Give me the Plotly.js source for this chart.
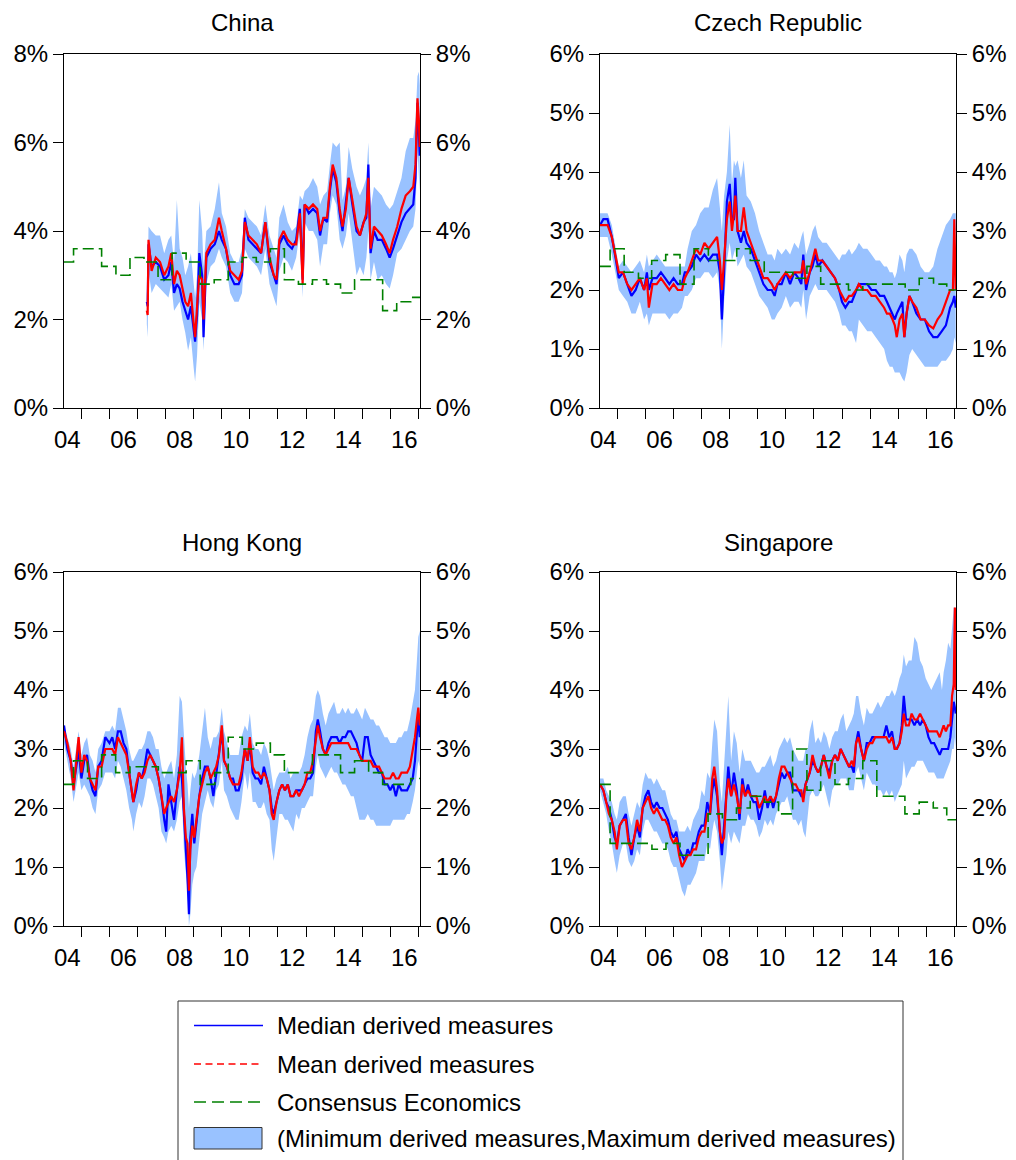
<!DOCTYPE html>
<html><head><meta charset="utf-8">
<script src="https://cdn.plot.ly/plotly-3.0.1.min.js"></script>
<style>html,body{margin:0;padding:0;background:#fff}#chart{width:1016px;height:1160px}</style>
</head><body><div id="chart"></div>
<script>
// ---------- tick labels ----------
const labelYears = [2004.5, 2006.5, 2008.5, 2010.5, 2012.5, 2014.5, 2016.5];
const tickLabels = ['04', '06', '08', '10', '12', '14', '16'];
const yearTicks = [2005, 2006, 2007, 2008, 2009, 2010, 2011, 2012, 2013, 2014, 2015, 2016, 2017];
const seriesNames = ['Median derived measures', 'Mean derived measures', 'Consensus Economics', '(Minimum derived measures,Maximum derived measures)'];

// ---------- China ----------
const cnYears = [2007.33,2007.36,2007.39,2007.5,2007.65,2007.8,2007.95,2008.1,2008.2,2008.3,2008.4,2008.5,2008.6,2008.7,2008.8,2008.9,2009.0,2009.05,2009.12,2009.2,2009.3,2009.35,2009.45,2009.6,2009.75,2009.9,2010.0,2010.15,2010.3,2010.45,2010.6,2010.72,2010.82,2010.95,2011.1,2011.25,2011.4,2011.55,2011.7,2011.85,2011.95,2012.05,2012.2,2012.35,2012.5,2012.65,2012.78,2012.88,2012.95,2013.1,2013.25,2013.4,2013.5,2013.62,2013.75,2013.85,2013.95,2014.08,2014.2,2014.3,2014.42,2014.52,2014.65,2014.8,2014.92,2015.05,2015.15,2015.22,2015.3,2015.42,2015.55,2015.7,2015.85,2015.98,2016.1,2016.25,2016.4,2016.55,2016.7,2016.82,2016.9,2016.97,2017.02,2017.05];
const cnMedian = [2.4,2.3,3.7,3.2,3.3,3.2,2.9,3.0,3.3,2.6, 2.8,2.7,2.4,2.2,2.0,2.3,1.7,1.5,2.1,3.5, 3.0,1.6,3.4,3.6,3.7,4.0,3.8,3.6,3.0,2.8, 2.8,3.0,4.3,3.8,3.7,3.6,3.5,4.2,3.3,3.0, 2.8,3.7,3.9,3.7,3.6,3.8,4.5,2.9,4.6,4.4, 4.5,4.4,3.9,4.3,4.2,4.9,5.4,5.1,4.4,4.0, 4.6,5.2,4.6,4.0,3.9,4.2,4.3,5.5,3.5,4.0, 3.8,3.8,3.6,3.4,3.6,3.9,4.2,4.4,4.5,4.6, 5.2,6.9,6.2,5.7];
const cnMean = [2.2,2.1,3.8,3.1,3.4,3.3,3.0,3.2,3.5,2.8, 3.1,3.0,2.7,2.4,2.3,2.6,1.9,1.6,2.3,3.0, 2.9,2.0,3.5,3.7,3.8,4.3,4.0,3.6,3.1,3.0, 2.9,3.1,4.2,3.9,3.8,3.7,3.5,4.2,3.4,3.0, 2.9,3.8,4.0,3.8,3.7,3.7,4.4,2.8,4.6,4.5, 4.6,4.5,4.0,4.3,4.3,5.0,5.5,5.2,4.5,4.1, 4.5,5.2,4.7,4.1,3.9,4.2,4.4,5.2,3.6,4.1, 4.0,3.9,3.7,3.5,3.8,4.1,4.5,4.8,4.9,5.0, 5.5,7.0,6.5,5.9];
const cnMin = [1.9,1.6,3.1,2.6,2.8,2.7,2.6,2.5,2.8,2.2, 2.3,2.4,2.0,1.7,1.3,1.6,0.9,0.6,1.2,2.4, 2.0,1.3,2.8,3.2,3.3,3.6,3.4,3.2,2.6,2.4, 2.4,2.6,3.6,3.4,3.3,3.2,3.0,3.6,2.8,2.5, 2.3,3.1,3.4,3.3,3.1,3.4,4.0,2.5,4.2,4.0, 4.0,3.8,3.2,3.7,3.7,4.4,4.8,4.6,3.8,3.6, 3.9,4.4,3.8,3.0,3.2,3.0,3.4,4.0,2.9,3.3, 2.9,3.0,2.8,2.7,3.0,3.5,3.6,3.8,4.0,4.1, 4.5,5.8,5.0,4.9];
const cnMax = [2.6,2.7,4.1,4.0,3.9,3.9,3.5,3.8,3.9,3.3, 4.7,3.6,3.4,3.0,3.2,3.5,2.8,2.5,3.0,4.7, 4.0,3.2,4.0,4.1,4.5,5.1,4.4,4.1,3.5,3.3, 3.3,3.6,4.5,4.3,4.2,4.1,3.9,4.6,3.9,3.6, 3.4,4.3,4.6,4.2,4.0,4.1,4.8,4.7,4.9,5.0, 5.2,5.0,4.6,4.8,4.9,5.5,6.0,5.9,6.0,4.7, 5.0,5.9,5.4,5.0,4.8,5.0,5.2,6.0,4.5,5.0, 4.9,4.8,4.6,4.5,4.6,4.9,5.2,5.8,6.1,6.1, 6.5,7.5,7.6,7.3];
const cnConsYears = [2004.38,2004.72,2005.72,2006.23,2006.73,2007.23,2007.73,2008.23,2008.73,2009.23,2009.73,2010.23,2010.73,2011.23,2011.73,2012.23,2012.73,2013.23,2013.73,2014.23,2014.73,2015.73,2016.23,2016.73,2017.06];
const cnConsensus = [3.3,3.6,3.2,3.0,3.4,3.3,2.9,3.5,3.3,2.8,2.9,3.3,3.4,3.3,3.6,2.9,2.8,2.9,2.8,2.6,2.9,2.2,2.4,2.5,2.5];

// ---------- Czech Republic ----------
const czYears = [2004.38,2004.5,2004.65,2004.8,2004.95,2005.05,2005.2,2005.35,2005.5,2005.65, 2005.8,2005.95,2006.05,2006.12,2006.25,2006.4,2006.55,2006.7,2006.85,2007.0, 2007.15,2007.3,2007.4,2007.5,2007.65,2007.8,2007.95,2008.1,2008.25,2008.4, 2008.55,2008.65,2008.72,2008.8,2008.9,2009.0,2009.08,2009.15,2009.2,2009.28, 2009.4,2009.5,2009.6,2009.75,2009.9,2010.05,2010.2,2010.35,2010.5,2010.6, 2010.7,2010.85,2011.0,2011.15,2011.3,2011.45,2011.55,2011.62,2011.72,2011.85, 2011.95,2012.05,2012.15,2012.3,2012.45,2012.6,2012.75,2012.9,2013.0,2013.12, 2013.25,2013.35,2013.5,2013.6,2013.75,2013.9,2014.05,2014.2,2014.35,2014.5, 2014.6,2014.7,2014.8,2014.88,2014.95,2015.05,2015.15,2015.22,2015.3,2015.4, 2015.5,2015.65,2015.8,2015.95,2016.1,2016.25,2016.4,2016.55,2016.7,2016.85, 2016.95,2017.0,2017.05];
const czMedian = [3.1,3.2,3.2,2.9,2.5,2.2,2.3,2.1,1.9,2.0, 2.2,2.0,2.3,2.0,2.2,2.2,2.3,2.2,2.1,2.2, 2.1,2.1,2.3,2.3,2.4,2.6,2.5,2.6,2.5,2.6, 2.6,2.3,1.5,2.3,3.5,3.8,3.2,3.2,3.9,3.0, 2.8,3.0,2.8,2.7,2.5,2.3,2.1,2.0,2.0,1.9, 2.1,2.1,2.3,2.1,2.3,2.2,2.1,2.6,2.0,2.3, 2.4,2.6,2.4,2.5,2.4,2.3,2.2,2.0,1.8,1.7, 1.8,1.8,2.0,2.1,2.1,2.1,2.0,2.0,1.9,1.9, 1.8,1.7,1.6,1.5,1.6,1.7,1.8,1.2,1.6,1.9, 1.8,1.6,1.5,1.5,1.3,1.2,1.2,1.3,1.4,1.7, 1.8,1.9,1.7];
const czMean = [3.1,3.1,3.1,2.9,2.5,2.3,2.3,2.1,2.0,2.1, 2.2,2.0,2.2,1.7,2.1,2.1,2.2,2.1,2.0,2.1, 2.0,2.0,2.2,2.3,2.5,2.7,2.6,2.8,2.7,2.8, 2.9,2.5,2.0,2.5,3.2,3.5,3.0,3.3,3.6,3.0, 3.0,3.4,3.0,2.8,2.6,2.4,2.2,2.2,2.1,2.0, 2.1,2.2,2.3,2.2,2.3,2.3,2.3,2.5,2.1,2.3, 2.5,2.7,2.5,2.5,2.4,2.3,2.2,2.0,1.9,1.8, 1.9,1.9,2.0,2.1,2.0,2.0,1.9,1.9,1.8,1.7, 1.6,1.6,1.5,1.4,1.2,1.5,1.6,1.2,1.6,1.9, 1.8,1.7,1.5,1.5,1.4,1.35,1.5,1.6,1.8,2.0, 2.0,3.2,2.0];
const czMin = [2.9,2.9,2.9,2.6,2.2,2.0,1.9,1.8,1.6,1.6, 1.8,1.5,1.6,1.4,1.6,1.6,1.6,1.6,1.5,1.6, 1.6,1.7,1.9,1.9,2.0,2.2,2.2,2.3,2.3,2.2, 2.3,2.0,1.0,1.8,2.5,2.8,2.5,2.6,2.7,2.4, 2.5,2.6,2.4,2.3,2.1,1.9,1.8,1.7,1.5,1.5, 1.6,1.7,1.9,1.7,1.8,1.8,1.7,2.0,1.5,1.9, 2.0,2.1,2.0,2.0,2.0,1.9,1.8,1.6,1.4,1.4, 1.3,1.3,1.1,1.5,1.4,1.3,1.3,1.2,1.1,1.0, 0.8,0.7,0.7,0.6,0.6,0.6,0.5,0.45,0.6,0.9, 1.0,0.9,0.8,0.7,0.7,0.7,0.7,0.8,0.8,0.9, 1.0,1.2,1.1];
const czMax = [3.3,3.3,3.3,3.1,2.7,2.4,2.5,2.4,2.3,2.4, 2.5,2.3,2.6,2.4,2.5,2.6,2.5,2.4,2.4,2.4, 2.4,2.4,2.4,2.7,3.0,3.1,3.3,3.4,3.4,3.7, 3.9,3.4,3.0,3.6,4.0,4.8,3.8,4.2,4.1,4.2, 3.9,4.2,3.6,3.5,3.3,3.0,2.8,2.6,2.6,2.5, 2.7,2.6,2.7,2.6,2.8,2.7,2.9,3.0,2.6,2.8, 3.0,3.1,2.9,2.8,2.8,2.7,2.6,2.5,2.6,2.6, 2.7,2.6,2.7,2.8,2.7,2.7,2.6,2.5,2.5,2.4, 2.4,2.3,2.3,2.2,2.3,2.6,2.5,2.3,2.6,2.7, 2.7,2.6,2.4,2.3,2.3,2.4,2.7,2.9,3.1,3.2, 3.3,3.3,3.3];
const czConsYears = [2004.38,2004.74,2005.24,2005.75,2006.22,2006.72,2007.23,2007.73,2008.24,2009.25,2009.73,2010.23,2011.25,2011.75,2012.24,2013.23,2013.74,2015.25,2015.75,2016.26,2016.73,2017.06];
const czConsensus = [2.4,2.7,2.3,2.2,2.5,2.6,2.1,2.7,2.5,2.7,2.5,2.3,2.2,2.4,2.1,2.0,2.1,2.0,2.2,2.1,2.0,2.0];

// ---------- Hong Kong ----------
const hkYears = [2004.38,2004.5,2004.62,2004.72,2004.82,2004.9,2005.0,2005.1,2005.2,2005.3, 2005.4,2005.5,2005.6,2005.72,2005.85,2006.0,2006.1,2006.2,2006.3,2006.4, 2006.5,2006.6,2006.7,2006.8,2006.85,2006.95,2007.05,2007.15,2007.25,2007.35, 2007.45,2007.55,2007.65,2007.75,2007.85,2007.95,2008.02,2008.1,2008.2,2008.3, 2008.4,2008.5,2008.58,2008.65,2008.72,2008.78,2008.83,2008.88,2008.95,2009.02, 2009.1,2009.2,2009.3,2009.4,2009.5,2009.6,2009.7,2009.8,2009.9,2010.0, 2010.08,2010.18,2010.3,2010.4,2010.5,2010.6,2010.7,2010.82,2010.92,2011.0, 2011.1,2011.2,2011.3,2011.4,2011.5,2011.6,2011.7,2011.78,2011.85,2011.95, 2012.05,2012.15,2012.25,2012.35,2012.45,2012.55,2012.65,2012.75,2012.85,2012.95, 2013.05,2013.15,2013.25,2013.35,2013.42,2013.5,2013.6,2013.7,2013.8,2013.9, 2014.0,2014.1,2014.2,2014.3,2014.4,2014.5,2014.6,2014.7,2014.8,2014.9, 2015.0,2015.1,2015.2,2015.3,2015.4,2015.5,2015.6,2015.7,2015.8,2015.9, 2016.0,2016.1,2016.2,2016.3,2016.4,2016.5,2016.6,2016.7,2016.8,2016.88, 2016.95,2017.0,2017.05];
const hkMedian = [3.4,3.0,2.8,2.4,2.7,3.0,2.5,2.8,2.9,2.5, 2.3,2.2,2.7,2.8,3.2,3.1,3.2,3.0,3.3,3.3, 3.1,3.0,2.6,2.3,2.1,2.3,2.6,2.5,2.7,3.0, 2.9,2.8,2.7,2.5,2.2,1.8,1.6,2.4,2.1,1.8, 2.3,2.7,2.5,1.8,1.3,0.8,0.2,1.5,1.9,1.4, 1.8,2.2,2.5,2.7,2.7,2.5,2.2,2.6,2.9,3.3, 2.8,2.7,2.5,2.5,2.3,2.3,2.5,3.0,2.8,3.1, 2.6,2.5,2.5,2.4,2.7,2.5,2.3,2.0,1.9,2.1, 2.3,2.4,2.3,2.4,2.2,2.2,2.3,2.3,2.3,2.4, 2.5,2.5,2.6,3.3,3.5,3.3,3.0,2.9,3.1,3.2, 3.2,3.2,3.1,3.2,3.2,3.3,3.3,3.2,3.1,2.9, 2.8,3.2,3.2,2.9,2.8,2.7,2.6,2.6,2.4,2.4, 2.3,2.4,2.2,2.4,2.3,2.3,2.3,2.4,2.5,2.8, 3.3,3.6,3.2];
const hkMean = [3.3,3.1,2.8,2.3,2.8,3.2,2.6,2.9,2.8,2.5, 2.4,2.3,2.7,2.7,3.0,3.0,3.0,2.9,3.2,3.1, 3.0,2.9,2.6,2.3,2.1,2.4,2.6,2.5,2.6,2.8, 2.9,2.8,2.7,2.5,2.2,1.9,2.0,2.1,2.2,2.1, 2.3,2.6,3.2,2.0,1.5,1.4,0.6,1.3,1.7,1.5, 1.8,2.2,2.4,2.6,2.7,2.5,2.6,2.7,2.9,3.4, 2.8,2.7,2.5,2.4,2.4,2.4,2.6,3.0,2.8,3.2, 2.7,2.6,2.6,2.5,2.6,2.5,2.3,1.9,1.8,2.1, 2.3,2.4,2.3,2.4,2.2,2.2,2.3,2.2,2.3,2.4, 2.6,2.6,2.8,3.2,3.4,3.2,3.0,2.9,3.0,3.1, 3.1,3.1,3.1,3.1,3.1,3.1,3.0,3.0,3.0,2.9, 2.8,2.8,2.8,2.8,2.7,2.7,2.7,2.6,2.5,2.5, 2.5,2.6,2.5,2.5,2.6,2.6,2.6,2.7,3.0,3.2, 3.5,3.7,3.4];
const hkMin = [3.1,2.8,2.5,2.1,2.4,2.6,2.3,2.4,2.3,2.2, 2.0,1.9,2.3,2.4,2.6,2.6,2.6,2.5,2.8,2.7, 2.5,2.3,2.0,1.8,1.6,1.9,2.1,2.0,2.2,2.5, 2.5,2.4,2.2,2.0,1.6,1.5,1.4,1.6,1.7,1.6, 1.8,2.1,2.2,1.3,0.9,0.6,0.0,0.2,0.7,0.9, 1.0,1.5,1.9,2.1,2.3,2.1,2.0,2.3,2.4,2.8, 2.3,2.2,2.0,1.9,1.8,1.8,2.1,2.6,2.3,2.6, 2.1,2.1,2.0,2.0,2.1,1.9,1.8,1.3,1.1,1.5, 1.9,1.9,1.8,1.8,1.7,1.6,1.9,1.8,2.0,2.0, 2.1,2.2,2.2,2.7,2.9,2.7,2.6,2.5,2.6,2.7, 2.6,2.6,2.5,2.4,2.4,2.3,2.2,2.2,2.0,1.8, 1.8,1.8,1.9,1.8,1.8,1.7,1.7,1.7,1.7,1.7, 1.7,1.8,1.8,1.8,1.8,1.8,1.9,1.9,2.1,2.3, 2.6,2.8,2.7];
const hkMax = [3.4,3.2,3.0,2.7,3.0,3.3,2.9,3.1,3.2,2.9, 2.8,2.6,3.0,3.1,3.3,3.3,3.4,3.3,3.7,3.7, 3.5,3.3,3.0,2.8,2.8,2.9,3.0,3.0,3.1,3.3, 3.3,3.2,3.0,3.0,2.7,2.5,2.6,2.7,2.8,2.5, 2.9,3.9,3.8,3.2,2.7,2.4,2.0,2.3,2.6,2.5, 2.6,2.9,3.3,3.7,3.2,3.0,3.2,3.2,3.3,3.7, 3.3,3.1,2.9,2.9,2.9,2.9,3.2,3.4,3.3,3.6, 3.1,3.0,3.0,2.9,3.1,3.0,2.8,2.5,2.3,2.5, 2.6,2.6,2.6,2.7,2.5,2.6,2.6,2.6,2.7,2.9, 3.2,3.4,3.5,3.9,4.0,3.9,3.6,3.4,3.6,3.7, 3.8,3.6,3.6,3.7,3.6,3.7,3.6,3.6,3.7,3.6, 3.5,3.7,3.6,3.5,3.5,3.4,3.4,3.3,3.2,3.2, 3.1,3.1,3.1,3.2,3.2,3.3,3.3,3.5,3.8,4.0, 4.5,4.9,5.0];
const hkConsYears = [2004.38,2004.72,2005.22,2005.72,2006.22,2006.73,2007.74,2008.73,2009.23,2009.75,2010.23,2010.73,2011.23,2011.73,2012.23,2013.23,2014.23,2014.73,2015.23,2015.73,2016.73,2017.06];
const hkConsensus = [2.4,2.8,2.5,2.9,2.6,2.7,2.6,2.8,2.4,2.6,3.2,3.0,3.1,2.9,2.6,2.9,2.6,2.8,2.6,2.4,2.5,2.5];

// ---------- Singapore ----------
const sgYears = [2004.38,2004.5,2004.6,2004.7,2004.8,2004.9,2004.98,2005.08,2005.2,2005.3, 2005.4,2005.5,2005.6,2005.7,2005.8,2005.9,2006.0,2006.1,2006.2,2006.3, 2006.4,2006.5,2006.6,2006.7,2006.8,2006.9,2007.0,2007.1,2007.2,2007.3, 2007.4,2007.5,2007.6,2007.7,2007.8,2007.9,2008.0,2008.1,2008.2,2008.3, 2008.38,2008.45,2008.55,2008.65,2008.72,2008.8,2008.88,2008.95,2009.05,2009.15, 2009.25,2009.35,2009.45,2009.55,2009.65,2009.75,2009.85,2009.95,2010.05,2010.15, 2010.25,2010.35,2010.45,2010.55,2010.65,2010.75,2010.85,2010.95,2011.05,2011.15, 2011.25,2011.35,2011.45,2011.55,2011.62,2011.7,2011.78,2011.85,2011.95,2012.05, 2012.15,2012.25,2012.35,2012.45,2012.55,2012.65,2012.75,2012.85,2012.95,2013.05, 2013.15,2013.25,2013.35,2013.42,2013.5,2013.58,2013.68,2013.78,2013.88,2013.98, 2014.08,2014.18,2014.28,2014.38,2014.48,2014.58,2014.68,2014.78,2014.88,2014.95, 2015.05,2015.13,2015.2,2015.28,2015.38,2015.48,2015.58,2015.68,2015.78,2015.88, 2015.98,2016.08,2016.18,2016.28,2016.38,2016.48,2016.56,2016.62,2016.7,2016.78, 2016.86,2016.92,2016.98,2017.02,2017.05];
const sgMedian = [2.4,2.3,2.1,2.0,1.8,1.5,1.4,1.7,1.8,1.9, 1.5,1.2,1.5,1.7,1.5,2.0,2.2,2.3,2.1,2.0, 2.1,2.0,2.0,1.9,1.8,1.6,1.5,1.6,1.3,1.2, 1.1,1.3,1.2,1.4,1.4,1.6,1.7,1.7,2.1,1.9, 2.3,2.5,2.2,1.6,1.2,1.7,2.3,2.7,2.2,2.6, 2.3,1.8,2.5,2.2,2.4,2.2,2.1,2.1,1.8,2.0, 2.3,2.0,2.2,2.0,2.2,2.4,2.6,2.5,2.6,2.6, 2.3,2.3,2.3,2.2,2.2,2.4,2.5,2.6,2.8,2.7, 2.6,2.7,2.9,2.7,2.6,2.8,2.9,2.8,3.0,2.9, 2.8,2.7,2.7,2.6,3.1,3.3,3.0,2.8,3.1,3.1, 3.2,3.2,3.2,3.2,3.2,3.4,3.2,3.3,3.0,3.0, 3.1,3.4,3.9,3.5,3.5,3.5,3.4,3.5,3.4,3.5, 3.4,3.2,3.1,3.1,3.0,2.9,3.0,3.0,3.0,3.0, 3.2,3.5,3.8,3.7,3.6];
const sgMean = [2.4,2.3,2.1,1.9,1.8,1.6,1.3,1.7,1.8,1.8, 1.4,1.3,1.5,1.8,1.6,2.0,2.1,2.2,2.0,1.9, 2.0,1.9,1.8,1.8,1.7,1.5,1.4,1.5,1.2,1.0, 1.1,1.2,1.2,1.3,1.3,1.5,1.6,1.6,1.9,1.9, 2.5,2.7,2.3,1.6,1.4,1.5,2.2,2.5,2.2,2.4, 2.2,1.9,2.4,2.2,2.3,2.2,2.2,2.2,2.0,2.1, 2.2,2.1,2.2,2.1,2.2,2.5,2.7,2.7,2.6,2.5, 2.4,2.4,2.3,2.3,2.1,2.4,2.5,2.6,2.9,2.7, 2.6,2.7,2.9,2.7,2.5,2.8,2.9,2.8,3.0,2.9, 2.8,2.7,2.8,2.7,3.1,3.2,3.0,2.8,3.0,3.1, 3.1,3.2,3.2,3.2,3.2,3.2,3.1,3.2,3.0,3.0, 3.1,3.3,3.6,3.4,3.4,3.6,3.5,3.5,3.6,3.5, 3.4,3.3,3.3,3.3,3.3,3.2,3.3,3.4,3.3,3.4, 3.4,3.9,4.1,5.4,4.0];
const sgMin = [2.3,2.1,1.9,1.6,1.4,1.1,0.9,1.2,1.4,1.4, 1.1,1.0,1.1,1.3,1.2,1.6,1.8,1.8,1.7,1.6, 1.6,1.5,1.4,1.4,1.3,1.1,1.0,1.0,0.8,0.6, 0.5,0.7,0.7,0.8,0.9,1.1,1.1,1.1,1.4,1.3, 1.6,1.8,1.6,1.1,0.6,0.9,1.2,1.6,1.4,1.6, 1.5,1.4,1.7,1.7,1.9,1.8,1.8,1.7,1.5,1.6, 1.8,1.7,1.8,1.7,1.9,2.0,2.1,2.1,2.2,2.0, 1.8,1.8,1.7,1.8,1.6,1.5,1.9,2.2,2.3,2.2, 2.2,2.3,2.4,2.2,2.0,2.3,2.4,2.4,2.5,2.5, 2.5,2.3,2.3,2.3,2.6,2.7,2.5,2.3,2.6,2.5, 2.4,2.4,2.3,2.3,2.2,2.3,2.2,2.3,2.1,2.2, 2.3,2.4,2.8,2.5,2.6,2.7,2.7,2.8,2.8,2.8, 2.7,2.6,2.6,2.6,2.5,2.5,2.5,2.5,2.6,2.7, 2.8,3.0,3.0,3.2,3.0];
const sgMax = [2.5,2.5,2.3,2.2,2.1,1.9,1.8,2.1,2.2,2.2, 1.9,1.7,1.9,2.1,2.0,2.4,2.6,2.5,2.5,2.4, 2.5,2.4,2.3,2.3,2.1,1.9,1.8,1.8,1.6,1.6, 1.6,1.7,1.6,1.8,1.9,2.0,2.3,2.2,2.6,2.5, 3.1,3.5,3.3,2.4,2.1,2.7,3.2,3.9,2.8,3.3, 3.1,2.6,3.0,2.8,2.8,2.8,2.7,2.6,2.6,2.7, 2.7,2.8,2.9,2.7,2.8,3.0,3.1,3.2,3.1,3.2, 3.0,2.9,2.8,2.8,2.8,3.0,3.0,3.3,3.5,3.1, 3.2,3.1,3.3,3.2,3.0,3.2,3.3,3.3,3.5,3.6, 3.3,3.4,3.5,3.6,3.9,3.9,3.6,3.4,3.7,3.6, 3.6,3.7,3.8,3.7,3.8,3.9,3.9,4.0,3.9,4.0, 4.2,4.3,4.6,4.4,4.5,4.5,4.9,4.8,4.5,4.4, 4.2,4.1,4.0,4.1,4.2,4.3,4.0,4.3,4.5,4.8, 4.7,5.1,5.4,5.4,5.3];
const sgConsYears = [2004.38,2004.74,2006.23,2006.73,2007.23,2008.23,2008.74,2009.24,2009.73,2010.23,2010.74,2011.24,2011.75,2012.24,2012.75,2013.23,2013.74,2014.24,2015.24,2015.75,2016.25,2016.73,2017.06];
const sgConsensus = [2.4,1.4,1.3,1.4,1.2,1.9,1.8,2.0,2.2,2.1,1.9,3.0,2.3,2.8,2.4,2.5,2.8,2.2,1.9,2.1,2.0,1.8,1.8];

// ---------- drawing ----------
const W = 1016, H = 1160;
const FONT = '"Liberation Sans", Arial, sans-serif';
const BAND = '#99c2ff', BLUE = '#0000ff', RED = '#ff0000', GREEN = '#008000';
const fx = v => v / W, fy = v => 1 - v / H;

const panels = [
  {title: 'China', x: cnYears, med: cnMedian, mean: cnMean, lo: cnMin, hi: cnMax, cx: cnConsYears, cy: cnConsensus, ymax: 8, dt: 2, box: [64, 420, 54, 408], ty: 23},
  {title: 'Czech Republic', x: czYears, med: czMedian, mean: czMean, lo: czMin, hi: czMax, cx: czConsYears, cy: czConsensus, ymax: 6, dt: 1, box: [600, 956, 54, 408], ty: 23},
  {title: 'Hong Kong', x: hkYears, med: hkMedian, mean: hkMean, lo: hkMin, hi: hkMax, cx: hkConsYears, cy: hkConsensus, ymax: 6, dt: 1, box: [64, 420, 572, 926], ty: 542},
  {title: 'Singapore', x: sgYears, med: sgMedian, mean: sgMean, lo: sgMin, hi: sgMax, cx: sgConsYears, cy: sgConsensus, ymax: 6, dt: 1, box: [600, 956, 572, 926], ty: 542}
];

const traces = [];
const layout = {
  width: W, height: H, margin: {l: 0, r: 0, t: 0, b: 0},
  paper_bgcolor: '#fff', plot_bgcolor: '#fff', showlegend: false,
  font: {family: FONT, size: 24, color: '#000'},
  shapes: [], annotations: []
};
const tickFont = {family: FONT, size: 24, color: '#000'};

panels.forEach((p, i) => {
  const s = i === 0 ? '' : String(i + 1);
  const xa = 'x' + s, ya = 'y' + s, yr = 'y' + (i + 5);
  const common = {xaxis: xa, yaxis: ya, mode: 'lines', hoverinfo: 'skip', showlegend: false};
  traces.push(Object.assign({x: p.x, y: p.lo, line: {width: 0, color: BAND}}, common));
  traces.push(Object.assign({x: p.x, y: p.hi, line: {width: 0, color: BAND}, fill: 'tonexty', fillcolor: BAND, name: seriesNames[3]}, common));
  traces.push(Object.assign({x: p.x, y: p.med, line: {width: 2.2, color: BLUE}, name: seriesNames[0]}, common));
  traces.push(Object.assign({x: p.x, y: p.mean, line: {width: 2.2, color: RED}, name: seriesNames[1]}, common));
  traces.push(Object.assign({x: p.cx, y: p.cy, line: {width: 1.6, color: GREEN, dash: '11px,5px', shape: 'hv'}, name: seriesNames[2]}, common));
  traces.push({x: [null], y: [null], xaxis: xa, yaxis: yr, mode: 'lines', hoverinfo: 'skip', showlegend: false});

  const [L, R, T, B] = p.box;
  layout['xaxis' + s] = {
    domain: [fx(L), fx(R)], anchor: ya, range: [2004.38, 2017.06],
    tickmode: 'array', tickvals: labelYears, ticktext: tickLabels,
    ticks: 'outside', ticklen: 10, tickcolor: 'rgba(0,0,0,0)', tickfont: tickFont,
    minor: {ticks: 'outside', ticklen: 10, tickwidth: 1, tickcolor: '#000', tickmode: 'array', tickvals: yearTicks, showgrid: false},
    showline: true, linecolor: '#000', linewidth: 1, mirror: true,
    showgrid: false, zeroline: false, fixedrange: true
  };
  const yBase = {
    range: [0, p.ymax], tickmode: 'linear', tick0: 0, dtick: p.dt, ticksuffix: '%',
    ticks: 'outside', ticklen: 10, tickwidth: 1, tickcolor: '#000', tickfont: tickFont,
    showgrid: false, zeroline: false, fixedrange: true
  };
  layout['yaxis' + s] = Object.assign({domain: [fy(B), fy(T)], anchor: xa, side: 'left',
    showline: true, linecolor: '#000', linewidth: 1, mirror: true}, yBase);
  layout['yaxis' + (i + 5)] = Object.assign({overlaying: ya, anchor: xa, side: 'right', showline: false}, yBase);

  layout.annotations.push({text: p.title, xref: 'paper', yref: 'paper', x: fx((L + R) / 2), y: fy(p.ty),
    xanchor: 'center', yanchor: 'middle', showarrow: false, font: {family: FONT, size: 24, color: '#000'}});
});

// legend box (drawn manually)
const legY = [1025.5, 1064, 1102, 1138];
layout.shapes.push({type: 'rect', xref: 'paper', yref: 'paper', x0: fx(178), x1: fx(903), y0: fy(1001), y1: fy(1170), line: {color: '#333', width: 1}, fillcolor: 'rgba(0,0,0,0)'});
layout.shapes.push({type: 'line', xref: 'paper', yref: 'paper', x0: fx(194), x1: fx(263), y0: fy(legY[0]), y1: fy(legY[0]), line: {color: BLUE, width: 1.5}});
layout.shapes.push({type: 'line', xref: 'paper', yref: 'paper', x0: fx(194), x1: fx(263), y0: fy(legY[1]), y1: fy(legY[1]), line: {color: RED, width: 1.5, dash: '7px,4.5px'}});
layout.shapes.push({type: 'line', xref: 'paper', yref: 'paper', x0: fx(194), x1: fx(263), y0: fy(legY[2]), y1: fy(legY[2]), line: {color: GREEN, width: 1.5, dash: '12px,6px'}});
layout.shapes.push({type: 'rect', xref: 'paper', yref: 'paper', x0: fx(194), x1: fx(262), y0: fy(1149), y1: fy(1127.5), line: {color: '#333', width: 1}, fillcolor: BAND});
seriesNames.forEach((n, k) => {
  layout.annotations.push({text: n, xref: 'paper', yref: 'paper', x: fx(275), y: fy(legY[k]), xanchor: 'left', yanchor: 'middle',
    showarrow: false, font: {family: FONT, size: 24, color: '#000'}});
});

Plotly.newPlot('chart', traces, layout, {staticPlot: true, displayModeBar: false});
</script>
</body></html>
